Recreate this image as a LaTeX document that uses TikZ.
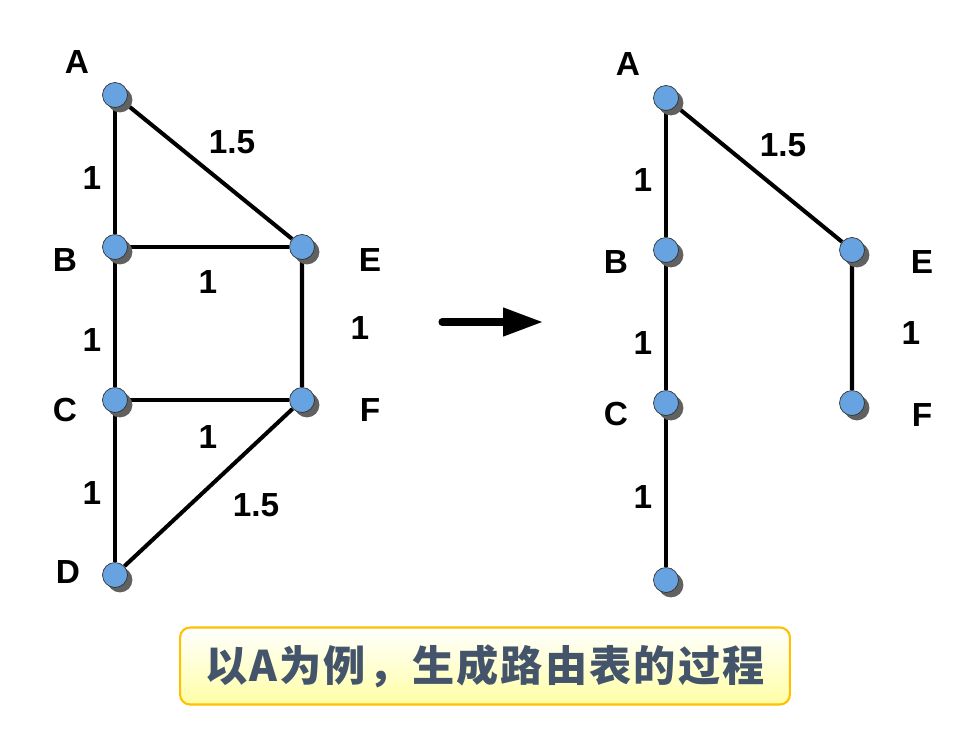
\documentclass[tikz,border=0pt]{standalone}
\usepackage{fontspec}
\setmainfont{Liberation Sans}
\newfontfamily\cjk[LetterSpace=5]{Noto Sans CJK SC}
\usetikzlibrary{arrows.meta,shadows,backgrounds}
\definecolor{vtxblue}{RGB}{102,163,224}
\definecolor{boxedge}{RGB}{255,192,0}
\definecolor{boxfill}{RGB}{255,255,165}
\definecolor{slate}{RGB}{68,84,106}

\begin{document}
\begin{tikzpicture}[x=0.02cm, y=-0.02cm, >=Stealth,
  vtx/.style={circle, draw=black!80, line width=0.4pt, fill=vtxblue,
    minimum size=0.5cm, inner sep=0pt,
    general shadow={shadow xshift=2.8pt, shadow yshift=-2.8pt,
      fill=black!62}},
  lbl/.style={font=\fontsize{19}{22}\selectfont\bfseries},
  wt/.style={font=\fontsize{19}{22}\selectfont\bfseries},
  link/.style={line width=2.3pt}]
  \useasboundingbox (0,0) rectangle (968,730);

  %% Left graph
  \node[vtx] (A) at (115,95)  {};
  \node[vtx] (B) at (115,247) {};
  \node[vtx] (C) at (115,400) {};
  \node[vtx] (D) at (115,575) {};
  \node[vtx] (E) at (302,247) {};
  \node[vtx] (F) at (302,400) {};
  \begin{scope}[on background layer]
    \draw[link] (A) -- (B) -- (C) -- (D);
    \draw[link] (A) -- (E) -- (F) -- (D);
    \draw[link] (B) -- (E);
    \draw[link] (C) -- (F);
  \end{scope}
  %% Node names
  \node[lbl] (la) at (77,62)  {A};
  \node[lbl] (lb) at (65,260) {B};
  \node[lbl] (lc) at (65,410) {C};
  \node[lbl] (ld) at (68,572) {D};
  \node[lbl] (le) at (370,260) {E};
  \node[lbl] (lf) at (370,410) {F};
  %% Weights
  \node[wt] (wae) at (232,142) {1.5};
  \node[wt] (wab) at (92,178)  {1};
  \node[wt] (wbe) at (208,282) {1};
  \node[wt] (wbc) at (92,340)  {1};
  \node[wt] (wef) at (360,328) {1};
  \node[wt] (wcf) at (208,437) {1};
  \node[wt] (wcd) at (92,493)  {1};
  \node[wt] (wdf) at (256,505) {1.5};

  %% Arrow
  \coordinate (arrS) at (442,322);
  \coordinate (arrE) at (543,322);
  \draw[line width=4pt, line cap=round,
    -{Triangle[length=22.7pt, width=15.4pt]}] (arrS) -- (arrE);

  %% Right tree
  \node[vtx] (rA) at (666,98)  {};
  \node[vtx] (rB) at (666,250) {};
  \node[vtx] (rC) at (666,403) {};
  \node[vtx] (rD) at (666,580) {};
  \node[vtx] (rE) at (852,250) {};
  \node[vtx] (rF) at (852,403) {};
  \begin{scope}[on background layer]
    \draw[link] (rA) -- (rB) -- (rC) -- (rD);
    \draw[link] (rA) -- (rE) -- (rF);
  \end{scope}
  \node[lbl] (rla) at (628,64)  {A};
  \node[lbl] (rlb) at (616,262) {B};
  \node[lbl] (rlc) at (616,414) {C};
  \node[lbl] (rle) at (922,262) {E};
  \node[lbl] (rlf) at (922,415) {F};
  \node[wt] (rwae) at (783,145) {1.5};
  \node[wt] (rwab) at (643,180) {1};
  \node[wt] (rwbc) at (643,343) {1};
  \node[wt] (rwef) at (911,333) {1};
  \node[wt] (rwcd) at (643,497) {1};

  %% Caption box
  \node[draw=boxedge, line width=1.2pt, rounded corners=0.2cm,
    top color=white, bottom color=boxfill,
    minimum width=12.2cm, minimum height=1.54cm,
    text=slate, font=\cjk\fontsize{24}{27}\selectfont\bfseries]
    (cap) at (485,666) {以A为例，生成路由表的过程};
\end{tikzpicture}
\end{document}
